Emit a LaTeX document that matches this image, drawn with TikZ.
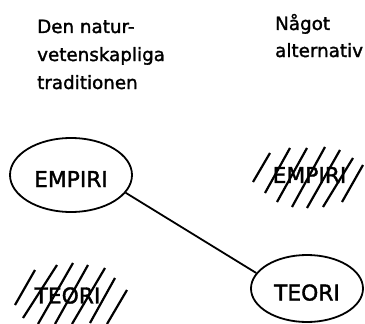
\documentclass[tikz,border=0pt]{standalone}
\usepackage{fontspec}
\setmainfont{DejaVu Sans}[BoldFont=DejaVu Sans,BoldFeatures={FakeBold=1.6}]
\usetikzlibrary{shapes.geometric}
\begin{document}
\begin{tikzpicture}[x=1pt,y=-1pt,
  heading/.style={anchor=base west,inner sep=0pt,font=\fontsize{18.3}{21}\selectfont\bfseries},
  word/.style={inner sep=0pt,font=\fontsize{21.8}{25}\selectfont\bfseries},
  oval/.style={draw,line width=1.8pt,ellipse,inner sep=0pt,font=\fontsize{21.8}{25}\selectfont\bfseries,text height=24pt,text depth=0pt},
  hatch/.style={line width=2.2pt},
  link/.style={line width=1.8pt}]
\useasboundingbox (0,0) rectangle (365,324);
% headings
\node[heading] (h1) at (37,33) {Den natur-};
\node[heading] (h2) at (37,61) {vetenskapliga};
\node[heading] (h3) at (37,89) {traditionen};
\node[heading] (h4) at (275,30) {Något};
\node[heading] (h5) at (275,57) {alternativ};
% ovals
\node[oval,minimum width=122pt,minimum height=74pt] (e1) at (71,175) {EMPIRI};
\node[oval,minimum width=112pt,minimum height=67pt] (e2) at (307,288.5) {TEORI};
\draw[link] (e1.-18) -- (e2.163);
% hatched words
\node[word] (w1) at (309.5,175) {EMPIRI};
\node[word] (w2) at (67.5,295.5) {TEORI};
\foreach \a/\b/\c/\d in {253/182/270/153, 265/193/290/148, 277/202/307/148, 292/207/325/147, 307/208/340/150, 323/207/353/158, 342/202/363/165}
  \draw[hatch] (\a,\b) -- (\c,\d);
\foreach \a/\b/\c/\d in {15/305/35/270, 23/318/57/265, 38/324/73/263, 55/324/88/265, 72/324/105/268, 90/323/115/278, 107/324/127/290}
  \draw[hatch] (\a,\b) -- (\c,\d);
\end{tikzpicture}
\end{document}
